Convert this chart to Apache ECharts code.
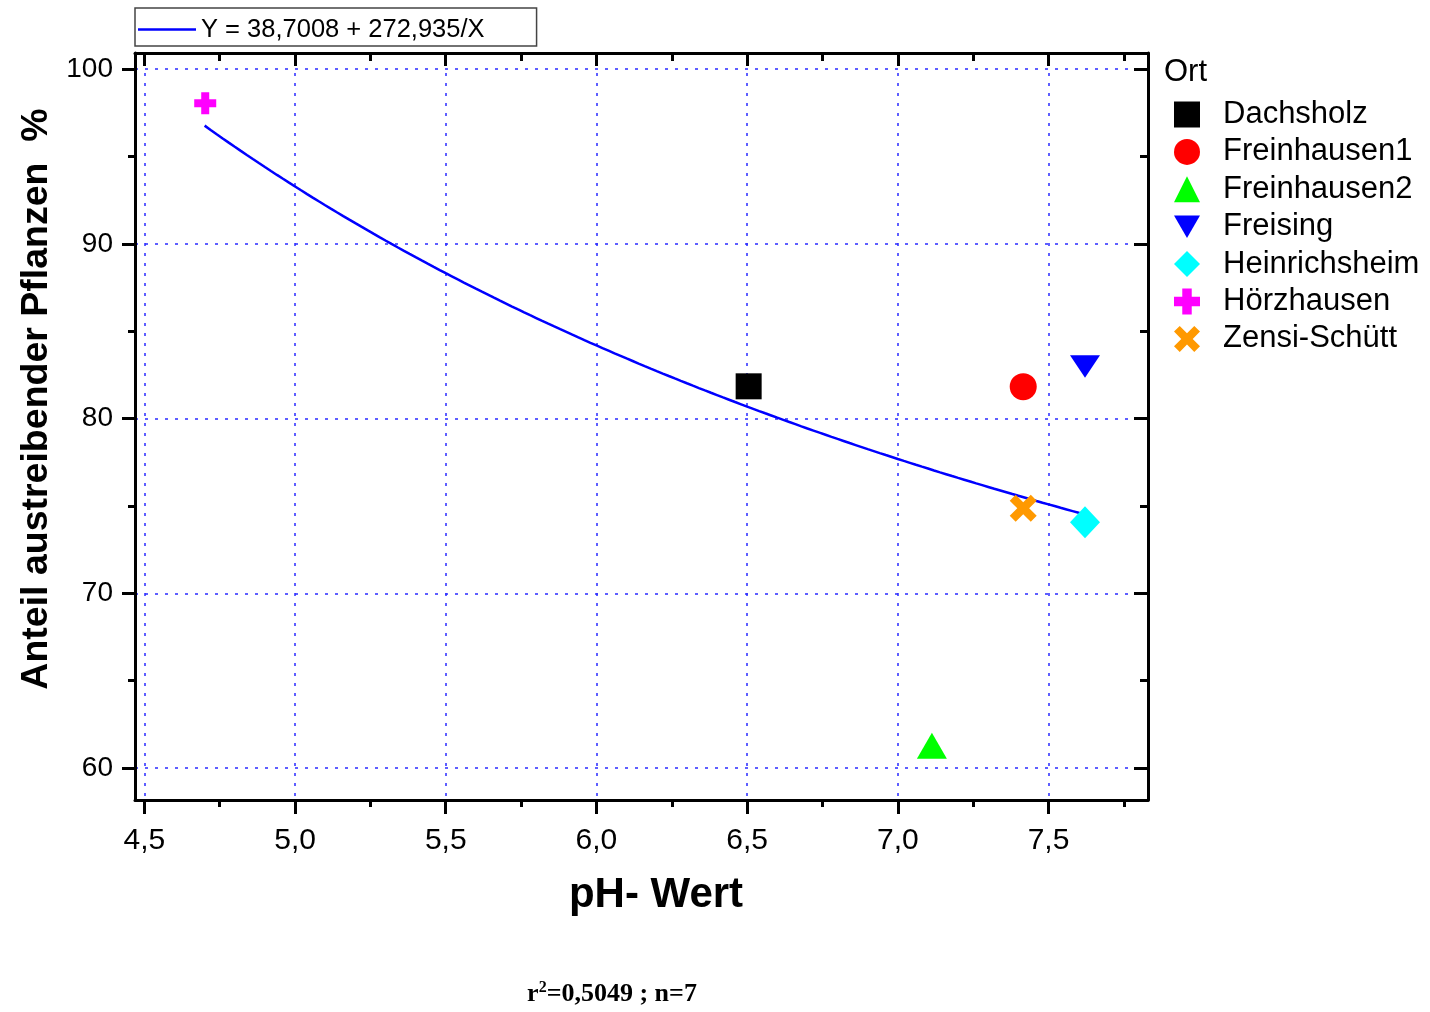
<!DOCTYPE html>
<html>
<head>
<meta charset="utf-8">
<script src="https://cdn.jsdelivr.net/npm/echarts@6/dist/echarts.min.js"></script>
<style>
  html, body { margin: 0; padding: 0; background: #fff; }
  #chart { width: 1430px; height: 1012px; }
</style>
</head>
<body>
<div id="chart"></div>
<script>
// Sampling sites, soil pH and share of sprouting plants (%)
const sites = ['Dachsholz', 'Freinhausen1', 'Freinhausen2', 'Freising', 'Heinrichsheim', 'Hörzhausen', 'Zensi-Schütt'];
const phValues = [6.505, 7.416, 7.113, 7.621, 7.621, 4.702, 7.416];
const sproutShare = [81.85, 81.83, 61.27, 82.98, 74.07, 98.05, 74.87];

// Reciprocal regression  Y = a + b / X
const fitIntercept = 38.7008;
const fitSlope = 272.935;
const fitRange = [4.70, 7.62];
const fitLabel = 'Y = 38,7008 + 272,935/X';
const statsNote = ['r', '2', '=0,5049 ; n=7'];

// Axis ticks
const xMajorTicks = [4.5, 5.0, 5.5, 6.0, 6.5, 7.0, 7.5];
const xMinorTicks = [4.75, 5.25, 5.75, 6.25, 6.75, 7.25, 7.75];
const yMajorTicks = [60, 70, 80, 90, 100];
const yMinorTicks = [65, 75, 85, 95];
const xExtent = [4.469, 7.83];
const yExtent = [58.17, 100.93];

const markerStyles = {
  'Dachsholz':     { symbol: 'rect', size: 26, color: '#000000' },
  'Freinhausen1':  { symbol: 'circle', size: 27, color: '#ff0000' },
  'Freinhausen2':  { symbol: 'triangle', size: [30, 26], color: '#00ff00' },
  'Freising':      { symbol: 'path://M0,0 L30,0 L15,26 Z', size: [30, 26], color: '#0000ff' },
  'Heinrichsheim': { symbol: 'diamond', size: [30, 32], color: '#00ffff' },
  'Hörzhausen':    { symbol: 'path://M7,0 H15 V7 H22 V15 H15 V22 H7 V15 H0 V7 H7 Z', size: 22, color: '#ff00ff' },
  'Zensi-Schütt':  { symbol: 'path://M0,2.2 L2.2,0 L5,2.8 L7.8,0 L10,2.2 L7.2,5 L10,7.8 L7.8,10 L5,7.2 L2.2,10 L0,7.8 L2.8,5 Z', size: 27, color: '#ff9900' }
};

const fontSans = '"Liberation Sans", Arial, sans-serif';
const fontSerif = '"Liberation Serif", "Times New Roman", serif';

// Curve points from the regression equation
const fitPoints = [];
for (let i = 0; i <= 146; i++) {
  const x = fitRange[0] + (fitRange[1] - fitRange[0]) * i / 146;
  fitPoints.push([x, fitIntercept + fitSlope / x]);
}

const decimalComma = v => v.toFixed(1).replace('.', ',');

function makeAxis(kind, position, ticks, tickLen, inside, withLabels, withLine, withGrid) {
  const ext = kind === 'x' ? xExtent : yExtent;
  return {
    type: 'value',
    gridIndex: 0,
    position: position,
    min: ext[0],
    max: ext[1],
    axisLine: { show: withLine, onZero: false, lineStyle: { color: '#000', width: 3 } },
    axisTick: {
      show: true, inside: inside, length: tickLen, customValues: ticks,
      lineStyle: { color: '#000', width: 3 }
    },
    axisLabel: withLabels ? {
      show: true, customValues: ticks,
      margin: kind === 'x' ? 26 : 22,
      formatter: kind === 'x' ? decimalComma : (v => String(Math.round(v))),
      color: '#000', fontFamily: fontSans, fontSize: kind === 'x' ? 30 : 28
    } : { show: false },
    splitLine: withGrid ? {
      show: true, lineStyle: { color: '#2b2bff', width: 1.5, type: [3, 7] }
    } : { show: false },
    minorTick: { show: false },
    minorSplitLine: { show: false }
  };
}

const xAxes = [
  makeAxis('x', 'bottom', xMajorTicks, 14, false, true, true, true),
  makeAxis('x', 'bottom', xMinorTicks, 7, false, false, false, false),
  makeAxis('x', 'top', xMajorTicks, 13, true, false, true, false),
  makeAxis('x', 'top', xMinorTicks, 8, true, false, false, false)
];
const yAxes = [
  makeAxis('y', 'left', yMajorTicks, 13, false, true, true, true),
  makeAxis('y', 'left', yMinorTicks, 7, false, false, false, false),
  makeAxis('y', 'right', yMajorTicks, 14, true, false, true, false),
  makeAxis('y', 'right', yMinorTicks, 8, true, false, false, false)
];

const scatterSeries = sites.map((name, i) => {
  const m = markerStyles[name];
  return {
    name: name,
    type: 'scatter',
    xAxisIndex: 0,
    yAxisIndex: 0,
    z: 5,
    symbol: m.symbol,
    symbolSize: m.size,
    symbolKeepAspect: true,
    itemStyle: { color: m.color, opacity: 1 },
    emphasis: { disabled: true },
    data: [[phValues[i], sproutShare[i]]]
  };
});

const option = {
  animation: false,
  backgroundColor: '#fff',
  grid: { left: 135, right: 282, top: 53, bottom: 212, containLabel: false },
  xAxis: xAxes,
  yAxis: yAxes,
  legend: [
    {
      data: [{ name: fitLabel, icon: 'rect' }],
      left: 135, top: 8,
      orient: 'horizontal',
      itemWidth: 58, itemHeight: 2.5,
      padding: [8, 52, 3, 3],
      borderColor: '#444', borderWidth: 1.5,
      selectedMode: false,
      textStyle: { color: '#000', fontFamily: fontSans, fontSize: 25.5, lineHeight: 27 }
    },
    {
      data: sites,
      left: 1169, top: 94,
      orient: 'vertical',
      itemWidth: 26, itemHeight: 26,
      itemGap: 6.4,
      selectedMode: false,
      textStyle: { color: '#000', fontFamily: fontSans, fontSize: 31, padding: [0, 0, 0, 18] }
    }
  ],
  graphic: [
    {
      type: 'text', left: 1164, top: 57,
      style: { text: 'Ort', fill: '#000', font: '31px ' + fontSans }
    },
    {
      type: 'text', x: 656, y: 895,
      style: { text: 'pH- Wert', fill: '#000', font: 'bold 42px ' + fontSans, textAlign: 'center', textVerticalAlign: 'middle' }
    },
    {
      type: 'text', x: 37, y: 399, rotation: Math.PI / 2,
      style: { text: 'Anteil austreibender Pflanzen  %', fill: '#000', font: 'bold 37.5px ' + fontSans, textAlign: 'center', textVerticalAlign: 'middle' }
    },
    {
      type: 'text', x: 612, y: 994,
      style: {
        text: '{b|' + statsNote[0] + '}{s|' + statsNote[1] + '}{b|' + statsNote[2] + '}',
        textAlign: 'center', textVerticalAlign: 'middle',
        rich: {
          b: { fontFamily: fontSerif, fontWeight: 'bold', fontSize: 26, fill: '#000', color: '#000' },
          s: { fontFamily: fontSerif, fontWeight: 'bold', fontSize: 16, fill: '#000', color: '#000', verticalAlign: 'top', padding: [0, 0, 12, 0] }
        }
      }
    }
  ],
  series: [
    {
      name: fitLabel,
      type: 'line',
      xAxisIndex: 0,
      yAxisIndex: 0,
      z: 3,
      symbol: 'none',
      showSymbol: false,
      smooth: false,
      lineStyle: { color: '#0000ff', width: 2.5 },
      itemStyle: { color: '#0000ff' },
      emphasis: { disabled: true },
      data: fitPoints
    }
  ].concat(scatterSeries)
};

const chart = echarts.init(document.getElementById('chart'), null, { renderer: 'canvas' });
chart.setOption(option);
</script>
</body>
</html>
